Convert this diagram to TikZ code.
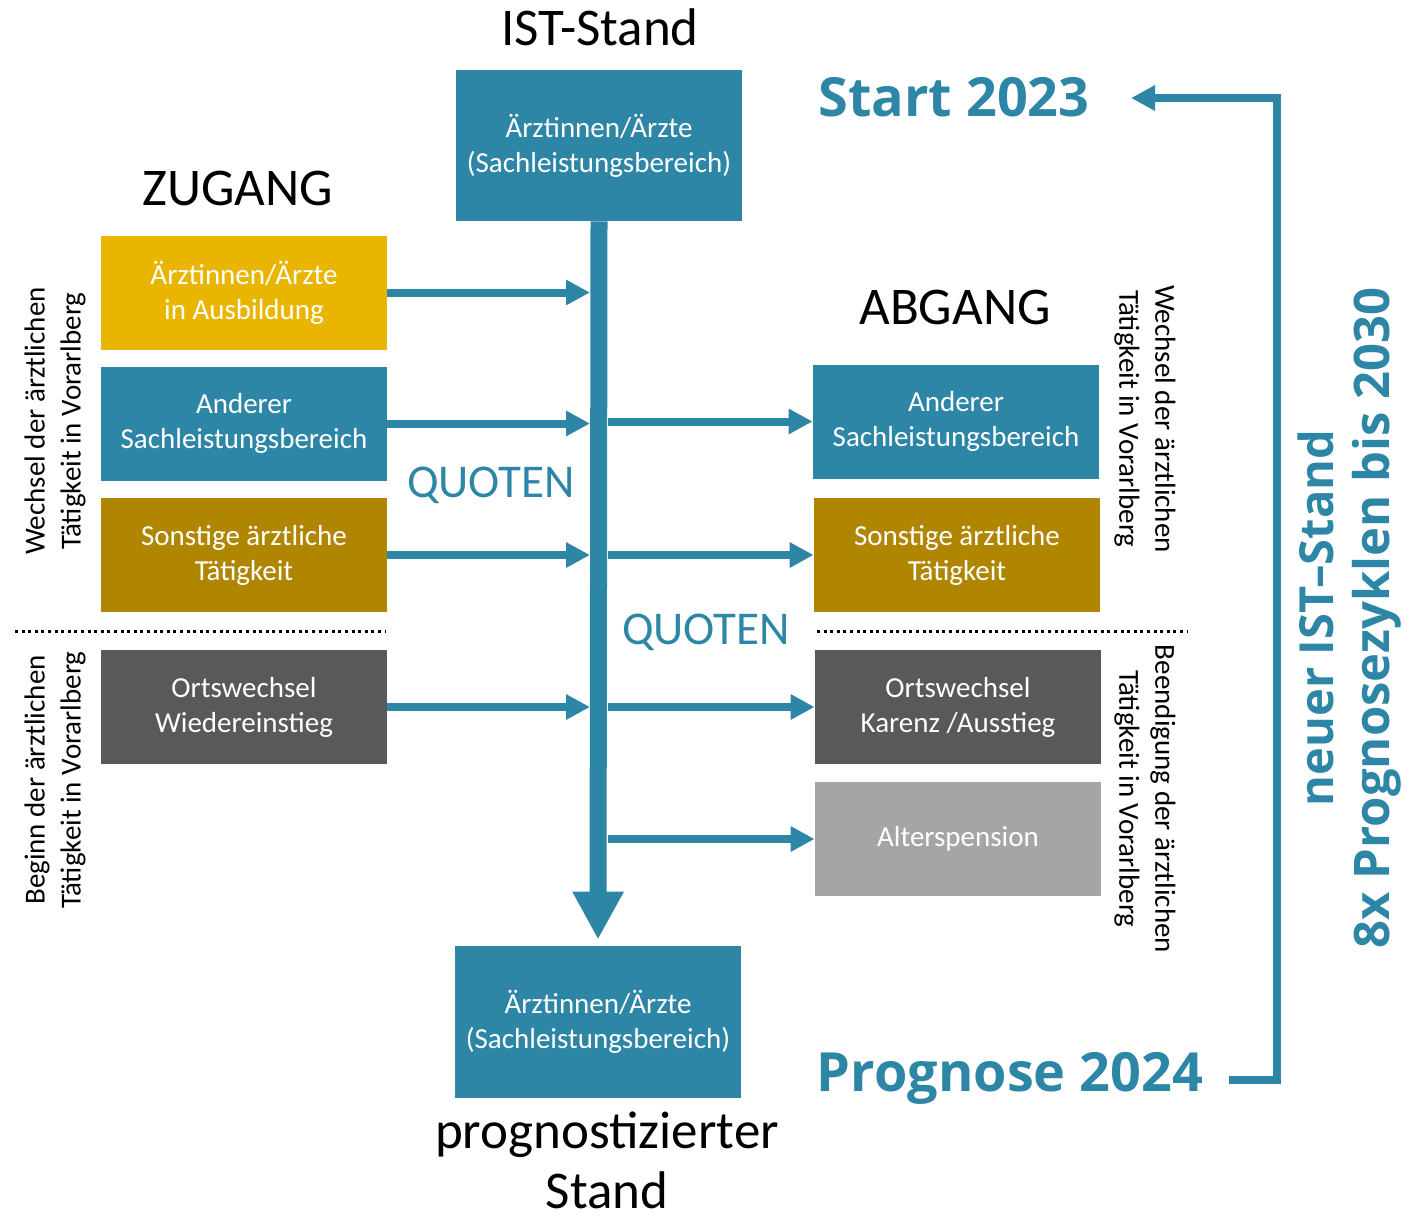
\documentclass[tikz,border=0pt]{standalone}
\usepackage{fontspec}
\setmainfont{Carlito}
\newfontfamily\accfont{Open Sans}
\usetikzlibrary{arrows.meta}

\definecolor{tealblue}{RGB}{46,134,166}
\definecolor{zuyellow}{RGB}{234,181,0}
\definecolor{zugold}{RGB}{176,134,0}
\definecolor{darkgr}{RGB}{89,89,89}
\definecolor{lightgr}{RGB}{165,165,165}

\begin{document}
\begin{tikzpicture}[x=0.5pt,y=-0.5pt,
    box/.style={minimum width=143pt, minimum height=57pt, inner sep=0pt,
        align=center, text=white, font=\fontsize{14.5}{17.5}\selectfont},
    head/.style={font=\fontsize{26.5}{30}\selectfont},
    quote/.style={text=tealblue, font=\fontsize{23.5}{28}\selectfont},
    year/.style={text=tealblue, font=\accfont\bfseries\fontsize{27}{32}\selectfont},
    side/.style={align=center, font=\fontsize{14.5}{18}\selectfont},
    flow/.style={draw=tealblue, line width=4pt, -{Triangle[width=12pt,length=12pt]}},
    stem/.style={draw=tealblue, line width=8.5pt, -{Triangle[width=24pt,length=24pt]}},
    sep/.style={line width=1.5pt, dash pattern=on 1.5pt off 1.8pt}]

\useasboundingbox (0,0) rectangle (1422,1215);

%% stand boxes
\node[box, fill=tealblue, minimum height=75.5pt] (ist)  at (599,145.5) {Ärztinnen/Ärzte\\(Sachleistungsbereich)};
\node[box, fill=tealblue, minimum height=76pt]   (prog) at (598,1022)  {Ärztinnen/Ärzte\\(Sachleistungsbereich)};

%% zugang
\node[box, fill=zuyellow] (zu1) at (244,292.5) {Ärztinnen/Ärzte\\in Ausbildung};
\node[box, fill=tealblue] (zu2) at (244,423.5) {Anderer\\Sachleistungsbereich};
\node[box, fill=zugold]   (zu3) at (244,555)   {Sonstige ärztliche\\Tätigkeit};
\node[box, fill=darkgr]   (zu4) at (244,707)   {Ortswechsel\\Wiedereinstieg};

%% abgang
\node[box, fill=tealblue] (ab1) at (956,421.5) {Anderer\\Sachleistungsbereich};
\node[box, fill=zugold]   (ab2) at (957,555)   {Sonstige ärztliche\\Tätigkeit};
\node[box, fill=darkgr]   (ab3) at (958,707)   {Ortswechsel\\Karenz /Ausstieg};
\node[box, fill=lightgr]  (ab4) at (958,839)   {Alterspension};

%% labels
\node[head] (istlbl) at (600,27)  {IST-Stand};
\node[head] (zulbl)  at (238,188) {ZUGANG};
\node[head] (ablbl)  at (955,307) {ABGANG};
\node[head, align=center, inner sep=0pt] (prlbl) at (607,1160) {prognostizierter\\Stand};
\node[quote] (quo1) at (491,485) {QUOTEN};
\node[quote] (quo2) at (706,632) {QUOTEN};
\node[year] (start) at (954,97)   {Start 2023};
\node[year] (progn) at (1010,1078) {Prognose 2024};
\node[year, align=center, rotate=90, font=\accfont\bfseries\fontsize{23.5}{28}\selectfont]
    (cycle) at (1350,618) {neuer IST–Stand\\{\fontsize{24.5}{28}\selectfont 8x Prognosezyklen bis 2030}};

%% side labels
\node[side, rotate=90]  (zuw) at (55,421)   {Wechsel der ärztlichen\\Tätigkeit in Vorarlberg};
\node[side, rotate=90]  (zub) at (55,780)   {Beginn der ärztlichen\\Tätigkeit in Vorarlberg};
\node[side, rotate=-90] (abw) at (1145,419) {Wechsel der ärztlichen\\Tätigkeit in Vorarlberg};
\node[side, rotate=-90] (abb) at (1145,799) {Beendigung der ärztlichen\\Tätigkeit in Vorarlberg};

%% separators
\coordinate (sepL1) at (15,631);
\coordinate (sepL2) at (386,631);
\coordinate (sepR1) at (817,631);
\coordinate (sepR2) at (1188,631);
\draw[sep] (sepL1) -- (sepL2);
\draw[sep] (sepR1) -- (sepR2);

%% main stem
\coordinate (stemL) at (590,0);
\coordinate (stemR) at (608,0);
\draw[stem] (ist.south) -- ([yshift=3pt]prog.north);

%% inflows
\draw[flow] (zu1.east) -- (zu1.east -| stemL);
\draw[flow] (zu2.east) -- (zu2.east -| stemL);
\draw[flow] (zu3.east) -- (zu3.east -| stemL);
\draw[flow] (zu4.east) -- (zu4.east -| stemL);

%% outflows
\draw[flow] (stemR |- ab1.west) -- (ab1.west);
\draw[flow] (stemR |- ab2.west) -- (ab2.west);
\draw[flow] (stemR |- ab3.west) -- (ab3.west);
\draw[flow] (stemR |- ab4.west) -- (ab4.west);

%% cycle loop
\coordinate (loopA) at (1229,1079.5);
\coordinate (loopB) at (1277,1079.5);
\coordinate (loopC) at (1277,98);
\coordinate (loopE) at (1131,98);
\draw[flow] (loopA) -- (loopB) -- (loopC) -- (loopE);

\end{tikzpicture}
\end{document}
